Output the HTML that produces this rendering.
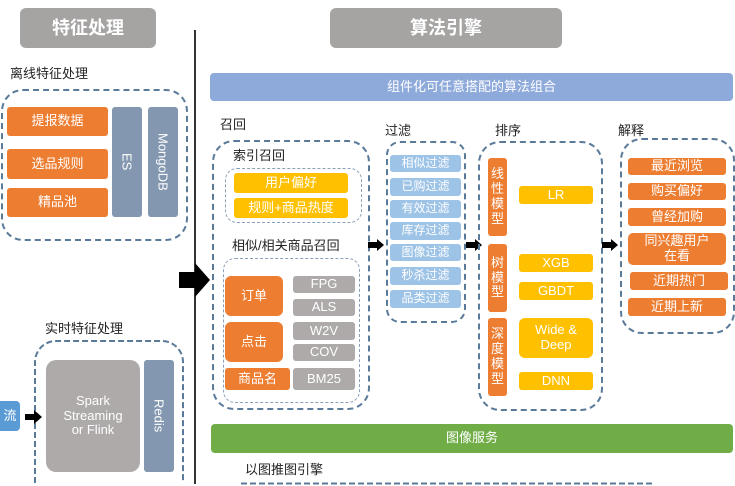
<!DOCTYPE html>
<html style="width:735px;height:486px;overflow:hidden"><head><meta charset="utf-8"><style>
*{margin:0;padding:0;box-sizing:border-box}
body{width:735px;height:486px;overflow:hidden;background:#fff;position:relative;font-family:"Liberation Sans","Noto Sans CJK SC",sans-serif}
div{position:absolute}
.b{display:flex;align-items:center;justify-content:center;color:#fff;text-align:center;line-height:1.15}
.o{background:#ed7d31;border-radius:3px;font-size:13px}
.y{background:#ffc000;border-radius:3px;font-size:13px}
.g{background:#aeaaaa;border-radius:3px;font-size:13px}
.lb{background:#9dc3e6;border-radius:3px;font-size:12px}
.d{border:2px dashed #5a7a9a;border-radius:22px}
.d2{border:1.5px dashed #8aa0b8;border-radius:12px}
.t{font-size:13px;color:#222;white-space:nowrap;line-height:16px}
.v{writing-mode:vertical-rl;background:#8497b0;border-radius:3px;color:#fff;font-size:13px;display:flex;align-items:center;justify-content:center}
</style></head><body>
<div class="b" style="left:20px;top:8px;width:136px;height:40px;background:#a6a3a3;border-radius:6px;font-size:18px;font-weight:bold">特征处理</div>
<div class="b" style="left:330px;top:8px;width:232px;height:40px;background:#a6a3a3;border-radius:6px;font-size:18px;font-weight:bold">算法引擎</div>
<div style="left:194px;top:30px;width:1.5px;height:454px;background:#333"></div>

<div class="t" style="left:10px;top:66px">离线特征处理</div>
<div class="d" style="left:1px;top:89px;width:187px;height:152px"></div>
<div class="b o" style="left:7px;top:107px;width:101px;height:29px">提报数据</div>
<div class="b o" style="left:7px;top:149px;width:101px;height:30px">选品规则</div>
<div class="b o" style="left:7px;top:188px;width:101px;height:29px">精品池</div>
<div class="v" style="left:112px;top:107px;width:30px;height:110px">ES</div>
<div class="v" style="left:148px;top:107px;width:30px;height:110px">MongoDB</div>

<div class="t" style="left:45px;top:321px">实时特征处理</div>
<svg style="position:absolute;left:34px;top:340px" width="150" height="144"><path d="M1 143V22A21 21 0 0 1 22 1H128A21 21 0 0 1 149 22V143" fill="none" stroke="#5a7a9a" stroke-width="2" stroke-dasharray="6 3"/></svg>
<div class="b" style="left:46px;top:360px;width:94px;height:112px;background:#aeaaaa;border-radius:10px;font-size:13px">Spark<br>Streaming<br>or Flink</div>
<div class="v" style="left:144px;top:360px;width:30px;height:112px">Redis</div>
<div class="b" style="left:0;top:401px;width:20px;height:30px;background:#5b9bd5;border-radius:0 4px 4px 0;font-size:13px">流</div>
<svg style="position:absolute;left:25px;top:410px" width="18" height="14"><path d="M0 4h9V0l8 7-8 7v-4H0z" fill="#000"/></svg>

<div class="b" style="left:210px;top:73px;width:523px;height:28px;background:#8eaadb;border-radius:4px;font-size:13px">组件化可任意搭配的算法组合</div>

<div class="t" style="left:220px;top:117px">召回</div>
<div class="d" style="left:212px;top:140px;width:158px;height:270px"></div>
<div class="t" style="left:233px;top:148px">索引召回</div>
<div class="d2" style="left:225px;top:168px;width:137px;height:55px"></div>
<div class="b y" style="left:234px;top:173px;width:114px;height:20px">用户偏好</div>
<div class="b y" style="left:234px;top:198px;width:114px;height:20px">规则+商品热度</div>
<div class="t" style="left:232px;top:238px">相似/相关商品召回</div>
<div class="d2" style="left:223px;top:258px;width:137px;height:145px"></div>
<div class="b o" style="left:225px;top:276px;width:58px;height:40px;border-radius:6px">订单</div>
<div class="b o" style="left:225px;top:322px;width:58px;height:40px;border-radius:6px">点击</div>
<div class="b o" style="left:225px;top:368px;width:65px;height:22px">商品名</div>
<div class="b g" style="left:293px;top:276px;width:62px;height:17px">FPG</div>
<div class="b g" style="left:293px;top:299px;width:62px;height:17px">ALS</div>
<div class="b g" style="left:293px;top:322px;width:62px;height:18px">W2V</div>
<div class="b g" style="left:293px;top:344px;width:62px;height:17px">COV</div>
<div class="b g" style="left:293px;top:368px;width:62px;height:22px">BM25</div>
<svg style="position:absolute;left:179px;top:263px" width="32" height="34"><path d="M0 9h16V0l15 17-15 17v-9H0z" fill="#000"/></svg>

<div class="t" style="left:385px;top:123px">过滤</div>
<div class="d" style="left:386px;top:141px;width:80px;height:182px;border-radius:14px"></div>
<div class="b lb" style="left:390px;top:155px;width:71px;height:17px">相似过滤</div>
<div class="b lb" style="left:390px;top:178px;width:71px;height:18px">已购过滤</div>
<div class="b lb" style="left:390px;top:200px;width:71px;height:18px">有效过滤</div>
<div class="b lb" style="left:390px;top:222px;width:71px;height:18px">库存过滤</div>
<div class="b lb" style="left:390px;top:244px;width:71px;height:17px">图像过滤</div>
<div class="b lb" style="left:390px;top:267px;width:71px;height:18px">秒杀过滤</div>
<div class="b lb" style="left:390px;top:290px;width:71px;height:18px">品类过滤</div>
<svg style="position:absolute;left:368px;top:239px" width="17" height="12"><path d="M0 3h9V0l7 6-7 6V9H0z" fill="#000"/></svg>
<svg style="position:absolute;left:466px;top:239px" width="17" height="12"><path d="M0 3h9V0l7 6-7 6V9H0z" fill="#000"/></svg>

<div class="t" style="left:495px;top:123px">排序</div>
<div class="d" style="left:478px;top:141px;width:125px;height:270px"></div>
<div class="b o" style="left:488px;top:158px;width:19px;height:78px;font-size:13px">线<br>性<br>模<br>型</div>
<div class="b o" style="left:488px;top:244px;width:19px;height:68px">树<br>模<br>型</div>
<div class="b o" style="left:488px;top:318px;width:19px;height:78px">深<br>度<br>模<br>型</div>
<div class="b y" style="left:519px;top:186px;width:74px;height:18px">LR</div>
<div class="b y" style="left:519px;top:254px;width:74px;height:18px">XGB</div>
<div class="b y" style="left:519px;top:282px;width:74px;height:18px">GBDT</div>
<div class="b y" style="left:519px;top:318px;width:74px;height:40px;border-radius:6px">Wide &amp;<br>Deep</div>
<div class="b y" style="left:519px;top:372px;width:74px;height:18px">DNN</div>
<svg style="position:absolute;left:602px;top:239px" width="17" height="12"><path d="M0 3h9V0l7 6-7 6V9H0z" fill="#000"/></svg>

<div class="t" style="left:618px;top:123px">解释</div>
<div class="d" style="left:620px;top:138px;width:115px;height:196px"></div>
<div class="b o" style="left:628px;top:158px;width:98px;height:17px">最近浏览</div>
<div class="b o" style="left:628px;top:183px;width:98px;height:17px">购买偏好</div>
<div class="b o" style="left:628px;top:208px;width:98px;height:18px">曾经加购</div>
<div class="b o" style="left:628px;top:233px;width:98px;height:32px;border-radius:5px">同兴趣用户<br>在看</div>
<div class="b o" style="left:630px;top:272px;width:98px;height:18px">近期热门</div>
<div class="b o" style="left:628px;top:298px;width:98px;height:18px">近期上新</div>

<div class="b" style="left:211px;top:424px;width:522px;height:29px;background:#70ad47;border-radius:4px;font-size:13px">图像服务</div>
<div class="t" style="left:245px;top:462px">以图推图引擎</div>
<svg style="position:absolute;left:235px;top:482px" width="425" height="3"><path d="M6 1.5H419" fill="none" stroke="#5a7a9a" stroke-width="2" stroke-dasharray="6 3"/></svg>
</body></html>
